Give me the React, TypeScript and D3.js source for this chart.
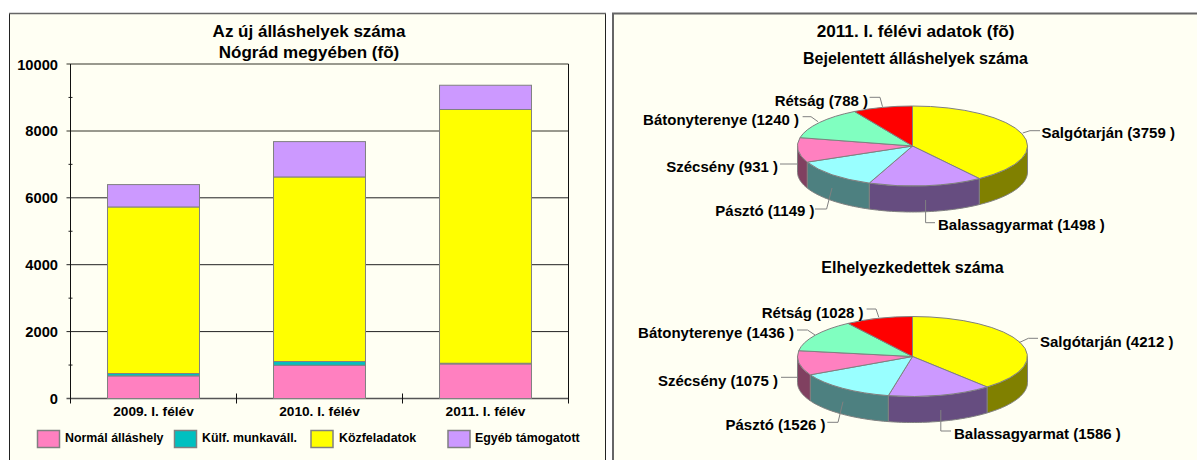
import React from 'react';
import * as d3 from 'd3';

const categories = ['2009. I. félév', '2010. I. félév', '2011. I. félév'];
const normal = [676, 995, 1034];
const kulf = [71, 110, 20];
const kozfeladat = [4979, 5518, 7586];
const egyeb = [669, 1057, 725];
const seriesNames = ['Normál álláshely', 'Külf. munkaváll.', 'Közfeladatok', 'Egyéb támogatott'];
const seriesColors = ['#ff80c0', '#00c0c0', '#ffff00', '#cc99ff'];
const yTicks = [0, 2000, 4000, 6000, 8000, 10000];
const yMinorTicks = [1000, 3000, 5000, 7000, 9000];

const towns = ['Salgótarján', 'Balassagyarmat', 'Pásztó', 'Szécsény', 'Bátonyterenye', 'Rétság'];
const bejelentett = [3759, 1498, 1149, 931, 1240, 788];
const elhelyezkedett = [4212, 1586, 1526, 1075, 1436, 1028];
const pieTop = ['#ffff00', '#cc99ff', '#99ffff', '#ff80c0', '#80ffc0', '#ff0000'];
const pieSide = ['#808000', '#664d80', '#4d8080', '#804060', '#408060', '#800000'];

const FONT = '"Liberation Sans", Arial, sans-serif';
const BG = '#fffff3';
const EDGE = '#808080';

const margin = { left: 70.5, right: 568.5, top: 64, bottom: 398.5 };
const x = d3.scaleBand().domain(categories).range([margin.left, margin.right]).paddingInner(0.446).paddingOuter(0.223);
const y = d3.scaleLinear().domain([0, 10000]).range([margin.bottom, margin.top]);

const stackRows = categories.map((c, i) => ({ c, s0: normal[i], s1: kulf[i], s2: kozfeladat[i], s3: egyeb[i] }));
const stacks = d3.stack<any>().keys(['s0', 's1', 's2', 's3'])(stackRows);

const legendBoxX = [37.5, 174.5, 311, 448];
const legendTextX = [65, 202, 339, 475];

// label placement per slice: text anchor point and leader polyline
const pie1Labels = [
  { tx: 1041.5, ty: 138, anchor: 'start', line: [[1022.7, 133], [1030, 130.7], [1040, 130.7]] },
  { tx: 938, ty: 230, anchor: 'start', line: [[925.6, 200], [925.6, 222.7], [935, 222.7]] },
  { tx: 814.5, ty: 216, anchor: 'end', line: [[832, 188], [826.6, 209], [815, 209]] },
  { tx: 778, ty: 172, anchor: 'end', line: [[797, 164], [780, 164]] },
  { tx: 799, ty: 124.5, anchor: 'end', line: [[818, 121.7], [811, 116.7], [802.6, 116.7]] },
  { tx: 868, ty: 106, anchor: 'end', line: [[882.5, 106.7], [880, 97.3], [869.6, 97.3]] },
];
const pie2Labels = [
  { tx: 1040, ty: 346.7, anchor: 'start', line: [[1019, 342.7], [1028.4, 338.3], [1038, 338.3]] },
  { tx: 954, ty: 439, anchor: 'start', line: [[940.8, 410], [940.8, 431], [951, 431]] },
  { tx: 825.5, ty: 430, anchor: 'end', line: [[843, 401.7], [838, 422.3], [827.3, 422.3]] },
  { tx: 778, ty: 386, anchor: 'end', line: [[798, 377.3], [781, 377.3]] },
  { tx: 794, ty: 337.7, anchor: 'end', line: [[815, 335], [807.5, 330], [797, 330]] },
  { tx: 863.5, ty: 317.7, anchor: 'end', line: [[878.8, 317.3], [876, 309], [866.6, 309]] },
];

function Pie3D({ values, cx, cy, labels }: { values: number[]; cx: number; cy: number; labels: any[] }) {
  const rx = 115;
  const ry = 40;
  const depth = 26;
  const arcs = d3.pie<number>().sort(null)(values);
  const arc = d3.arc<any>().innerRadius(0).outerRadius(1);
  const sx = d3.scaleLinear().domain([-1, 1]).range([cx - rx, cx + rx]);
  const sy = d3.scaleLinear().domain([-1, 1]).range([cy - ry, cy + ry]);
  const wall = d3
    .area<number>()
    .x((a) => sx(Math.sin(a)))
    .y0((a) => sy(-Math.cos(a)))
    .y1((a) => sy(-Math.cos(a)) + depth);
  return (
    <g>
      {arcs.map((d, i) => {
        // only the front half of the rim is visible
        const a0 = Math.max(d.startAngle, Math.PI / 2);
        const a1 = Math.min(d.endAngle, (3 * Math.PI) / 2);
        if (a1 <= a0) return null;
        const pts = d3.range(0, 41).map((k) => a0 + ((a1 - a0) * k) / 40);
        return <path key={i} d={wall(pts) as string} fill={pieSide[i]} stroke={EDGE} strokeWidth={1} />;
      })}
      <g transform={`translate(${cx},${cy}) scale(${rx},${ry})`}>
        {arcs.map((d, i) => (
          <path
            key={i}
            d={arc(d) as string}
            fill={pieTop[i]}
            stroke={EDGE}
            strokeWidth={1}
            vectorEffect="non-scaling-stroke"
          />
        ))}
      </g>
      {labels.map((l, i) => (
        <g key={i}>
          <path d={d3.line()(l.line) as string} fill="none" stroke={EDGE} strokeWidth={1} />
          <text x={l.tx} y={l.ty} textAnchor={l.anchor} fontSize={15} fontWeight="bold" fill="#000">
            {`${towns[i]} (${values[i]} )`}
          </text>
        </g>
      ))}
    </g>
  );
}

export default function App() {
  return (
    <svg
      width={1197}
      height={460}
      fontFamily={FONT}
      style={{ position: 'absolute', left: 0, top: 0, display: 'block' }}
    >
      <rect width={1197} height={460} fill="#fff" />
      {/* panels run off the bottom of the picture */}
      <rect x={9.5} y={13.5} width={596} height={460} fill={BG} stroke="#222" strokeWidth={1} />
      <line x1={9} x2={606} y1={13.5} y2={13.5} stroke="#666" strokeWidth={1.5} />
      <rect x={613} y={13.5} width={600} height={460} fill={BG} stroke="#666" strokeWidth={2} />

      <text x={309} y={37} textAnchor="middle" fontSize={17} fontWeight="bold">Az új álláshelyek száma</text>
      <text x={309} y={57.5} textAnchor="middle" fontSize={17} fontWeight="bold">Nógrád megyében (fõ)</text>

      {yTicks.map((t) => (
        <g key={t}>
          <line
            x1={margin.left - 4}
            x2={margin.right}
            y1={y(t)}
            y2={y(t)}
            stroke={t === 0 ? '#555' : t >= 8000 ? '#77776c' : '#222'}
            strokeWidth={t === 0 || t >= 8000 ? 1.5 : 1}
          />
          <text x={58} y={y(t) + 5.5} textAnchor="end" fontSize={14.7} fontWeight="bold">{t}</text>
        </g>
      ))}
      {yMinorTicks.map((t) => (
        <line key={t} x1={margin.left - 2} x2={margin.left + 2} y1={y(t)} y2={y(t)} stroke="#222" />
      ))}
      <line x1={margin.left} x2={margin.left} y1={margin.top} y2={margin.bottom + 5} stroke="#111" />
      <line x1={margin.right} x2={margin.right} y1={margin.top} y2={margin.bottom + 5} stroke="#111" />
      {categories.slice(1).map((c) => (
        <line
          key={c}
          x1={(x(c) as number) - (x.step() - x.bandwidth()) / 2}
          x2={(x(c) as number) - (x.step() - x.bandwidth()) / 2}
          y1={margin.bottom - 5}
          y2={margin.bottom + 5}
          stroke="#111"
        />
      ))}

      {stacks.map((s, i) =>
        s.map((d, j) => (
          <rect
            key={`${i}-${j}`}
            x={x(categories[j])}
            width={x.bandwidth()}
            y={y(d[1])}
            height={y(d[0]) - y(d[1])}
            fill={seriesColors[i]}
            stroke={EDGE}
            strokeWidth={1}
          />
        )),
      )}

      {categories.map((c) => (
        <text key={c} x={(x(c) as number) + x.bandwidth() / 2} y={416} textAnchor="middle" fontSize={13.7} fontWeight="bold">
          {c}
        </text>
      ))}

      {seriesNames.map((n, i) => (
        <g key={n}>
          <rect x={legendBoxX[i]} y={430.5} width={22} height={17} fill={seriesColors[i]} stroke={EDGE} strokeWidth={1.5} />
          <text x={legendTextX[i]} y={441.8} fontSize={12.4} fontWeight="bold">{n}</text>
        </g>
      ))}

      <text x={915.5} y={37} textAnchor="middle" fontSize={17.2} fontWeight="bold">2011. I. félévi adatok (fõ)</text>
      <text x={915.5} y={64} textAnchor="middle" fontSize={16} fontWeight="bold">Bejelentett álláshelyek száma</text>
      <text x={912.5} y={273} textAnchor="middle" fontSize={16} fontWeight="bold">Elhelyezkedettek száma</text>

      <Pie3D values={bejelentett} cx={912.5} cy={146} labels={pie1Labels} />
      <Pie3D values={elhelyezkedett} cx={912.5} cy={356.5} labels={pie2Labels} />
    </svg>
  );
}
